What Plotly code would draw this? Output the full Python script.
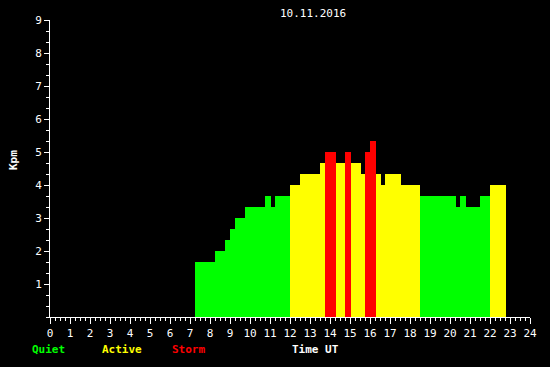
import plotly.graph_objects as go

# Kpm segments (hours UT) and values
seg_start = [7.25, 8.25, 8.75, 9.0, 9.25, 9.75, 10.75, 11.05, 11.25, 12.0, 12.5, 13.5, 13.75,
             14.3, 14.75, 15.05, 15.55, 15.75, 16.0, 16.3, 16.55, 16.75, 17.55, 18.5, 20.3,
             20.5, 20.8, 21.5, 22.0]
seg_end = seg_start[1:] + [22.8]
kpm = [1.67, 2.0, 2.33, 2.67, 3.0, 3.33, 3.67, 3.33, 3.67, 4.0, 4.33, 4.67, 5.0,
       4.67, 5.0, 4.67, 4.33, 5.0, 5.33, 4.33, 4.0, 4.33, 4.0, 3.67, 3.33,
       3.67, 3.33, 3.67, 4.0]
x_ticks = list(range(0, 25))
y_ticks = list(range(1, 10))
title_text = "10.11.2016"

def color_for(v):
    if v >= 5:
        return "#ff0000"
    if v >= 4:
        return "#ffff00"
    return "#00ff00"

centers = [(a + b) / 2 for a, b in zip(seg_start, seg_end)]
widths = [b - a for a, b in zip(seg_start, seg_end)]
colors = [color_for(v) for v in kpm]

fig = go.Figure(go.Bar(x=centers, y=kpm, width=widths, marker=dict(color=colors, line=dict(width=0)),
                       hoverinfo="skip"))

FONT = "DejaVu Sans Mono"
fig.update_layout(
    width=550, height=367,
    paper_bgcolor="black", plot_bgcolor="black",
    margin=dict(l=50, r=20, t=20, b=50),
    showlegend=False, bargap=0,
    font=dict(family=FONT, size=11, color="white"),
    xaxis=dict(range=[0, 24], tickvals=x_ticks, ticktext=[str(t) for t in x_ticks],
               ticks="outside", ticklen=6, tickcolor="white", tickwidth=1,
               showline=True, linecolor="white", linewidth=1, showgrid=False, zeroline=False,
               minor=dict(dtick=0.25, ticks="outside", ticklen=3, tickcolor="white", showgrid=False),
               tickfont=dict(family=FONT, size=11, color="white")),
    yaxis=dict(range=[0, 9], tickvals=y_ticks, ticks="outside", ticklen=5, tickcolor="white",
               showline=True, linecolor="white", linewidth=1, showgrid=False, zeroline=False,
               minor=dict(tick0=0, dtick=1/3, ticks="outside", ticklen=3, tickcolor="white", showgrid=False),
               tickfont=dict(family=FONT, size=11, color="white")),
)

def px_x(p):
    return (p - 50) / 480

def px_y(p):
    return (317 - p) / 297

annos = [
    (title_text, 313, 13, "white", "center", False),
    ("Quiet", 30, 349, "#00ff00", "left", True),
    ("Active", 100, 349, "#ffff00", "left", True),
    ("Storm", 170, 349, "#ff0000", "left", True),
    ("Time UT", 290, 349, "white", "left", True),
]
for text, x, y, col, anch, bold in annos:
    fig.add_annotation(text=f"<b>{text}</b>" if bold else text, x=px_x(x), y=px_y(y),
                       xref="paper", yref="paper", xanchor=anch, yanchor="middle",
                       showarrow=False, font=dict(family=FONT, size=11, color=col))
fig.add_annotation(text="<b>Kpm</b>", x=px_x(13), y=px_y(160), xref="paper", yref="paper",
                   xanchor="center", yanchor="middle", textangle=-90, showarrow=False,
                   font=dict(family=FONT, size=11, color="white"))

fig.write_html("out.html", config={"displayModeBar": False, "staticPlot": True},
               post_script="document.body.style.margin='0';document.body.style.background='black';document.body.style.overflow='hidden';")
